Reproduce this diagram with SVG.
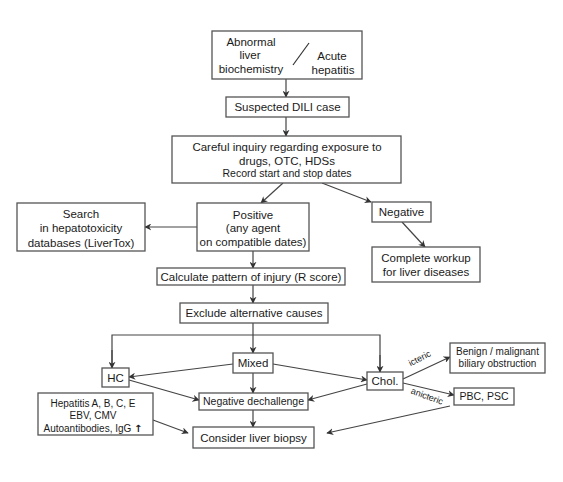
<svg xmlns="http://www.w3.org/2000/svg" width="563" height="482" viewBox="0 0 563 482">
<defs>
<marker id="ah" viewBox="0 0 10 10" refX="9" refY="5" markerWidth="7" markerHeight="7" markerUnits="userSpaceOnUse" orient="auto">
<path d="M0,0 L10,5 L0,10 L3,5 z" fill="#333"/>
</marker>
<style>
.box{fill:#fff;stroke:#555;stroke-width:1.3}
.t{font-family:"Liberation Sans",Arial,sans-serif;font-size:11.5px;fill:#1a1a1a;text-anchor:middle}
.s{font-size:10.5px}
.xs{font-size:10px}
.c{stroke:#444;stroke-width:1.2;fill:none}
.a{marker-end:url(#ah)}
</style>
</defs>
<rect width="563" height="482" fill="#fff"/>
<g id="connectors">
<line class="c a" x1="286" y1="79" x2="286" y2="97"/>
<line class="c a" x1="286" y1="117" x2="286" y2="136"/>
<line class="c a" x1="283" y1="183" x2="261" y2="203"/>
<line class="c a" x1="322" y1="183" x2="371" y2="202"/>
<line class="c a" x1="197" y1="227" x2="145" y2="227"/>
<line class="c a" x1="402" y1="222" x2="425" y2="247"/>
<line class="c a" x1="253" y1="251" x2="253" y2="268"/>
<line class="c a" x1="253" y1="285" x2="253" y2="303"/>
<line class="c a" x1="253" y1="323" x2="253" y2="353"/>
<polyline class="c" points="112,368 112,335 380,335 380,372"/>
<line class="c a" x1="112" y1="350" x2="112" y2="368"/>
<line class="c a" x1="380" y1="355" x2="380" y2="372"/>
<line class="c a" x1="233" y1="364" x2="129" y2="377"/>
<line class="c a" x1="129" y1="380" x2="199" y2="400"/>
<line class="c a" x1="273" y1="364" x2="367" y2="380"/>
<line class="c a" x1="367" y1="384" x2="308" y2="400"/>
<line class="c a" x1="253" y1="373" x2="253" y2="393"/>
<line class="c a" x1="403" y1="379" x2="450" y2="357"/>
<line class="c a" x1="403" y1="383" x2="454" y2="395"/>
<line class="c a" x1="450" y1="406" x2="327" y2="433"/>
<line class="c a" x1="153" y1="420" x2="188" y2="433"/>
<line class="c a" x1="253" y1="410" x2="253" y2="427"/>
<text class="t" style="font-size:9px" transform="translate(421,361) rotate(-27)">icteric</text>
<text class="t" style="font-size:9px" transform="translate(426,399) rotate(20)">anicteric</text>
</g>
<g id="n-start">
<rect class="box" x="212" y="31" width="150" height="48"/>
<text class="t" x="251" y="46">Abnormal</text>
<text class="t" x="250" y="59">liver</text>
<text class="t" x="251" y="73">biochemistry</text>
<line x1="293" y1="65" x2="309" y2="43" stroke="#333" stroke-width="1.2"/>
<text class="t" x="332" y="60">Acute</text>
<text class="t" x="333" y="74">hepatitis</text>
</g>
<g id="n-suspected">
<rect class="box" x="226" y="97" width="123" height="20"/>
<text class="t" x="287.5" y="111">Suspected DILI case</text>
</g>
<g id="n-inquiry">
<rect class="box" x="172" y="136" width="229" height="47"/>
<text class="t" x="287" y="151">Careful inquiry regarding exposure to</text>
<text class="t" x="287" y="165">drugs, OTC, HDSs</text>
<text class="t s" x="287" y="177">Record start and stop dates</text>
</g>
<g id="n-positive">
<rect class="box" x="197" y="203" width="112" height="48"/>
<text class="t" x="253" y="219">Positive</text>
<text class="t" x="253" y="232">(any agent</text>
<text class="t" x="253" y="246">on compatible dates)</text>
</g>
<g id="n-search">
<rect class="box" x="17" y="203" width="128" height="48"/>
<text class="t" x="81" y="218">Search</text>
<text class="t" x="81" y="232">in hepatotoxicity</text>
<text class="t" x="81" y="247">databases (LiverTox)</text>
</g>
<g id="n-negative">
<rect class="box" x="372" y="202" width="59" height="20"/>
<text class="t" x="401.5" y="216">Negative</text>
</g>
<g id="n-workup">
<rect class="box" x="372" y="247" width="108" height="35"/>
<text class="t" x="426" y="262">Complete workup</text>
<text class="t" x="426" y="276">for liver diseases</text>
</g>
<g id="n-calculate">
<rect class="box" x="157" y="268" width="188" height="17"/>
<text class="t" x="251" y="280.5">Calculate pattern of injury (R score)</text>
</g>
<g id="n-exclude">
<rect class="box" x="180" y="303" width="148" height="20"/>
<text class="t" x="254" y="317">Exclude alternative causes</text>
</g>
<g id="n-hc">
<rect class="box" x="102" y="368" width="27" height="19"/>
<text class="t" x="115.5" y="382">HC</text>
</g>
<g id="n-mixed">
<rect class="box" x="233" y="353" width="40" height="20"/>
<text class="t" x="253" y="367">Mixed</text>
</g>
<g id="n-chol">
<rect class="box" x="367" y="372" width="36" height="18"/>
<text class="t" x="385" y="385">Chol.</text>
</g>
<g id="n-dechallenge">
<rect class="box" x="199" y="393" width="109" height="17"/>
<text class="t s" x="253.5" y="405">Negative dechallenge</text>
</g>
<g id="n-benign">
<rect class="box" x="450" y="343" width="95" height="30"/>
<text class="t xs" x="497.5" y="355">Benign / malignant</text>
<text class="t xs" x="497.5" y="367">biliary obstruction</text>
</g>
<g id="n-pbc">
<rect class="box" x="454" y="388" width="60" height="17"/>
<text class="t s" x="484" y="400">PBC, PSC</text>
</g>
<g id="n-hepatitis">
<rect class="box" x="38" y="393" width="115" height="42"/>
<text class="t xs" x="93" y="407">Hepatitis A, B, C, E</text>
<text class="t xs" x="93" y="419">EBV, CMV</text>
<text class="t xs" x="93" y="432">Autoantibodies, IgG <tspan font-family="DejaVu Sans" font-weight="bold">↑</tspan></text>
</g>
<g id="n-biopsy">
<rect class="box" x="193" y="427" width="121" height="21"/>
<text class="t" x="253.5" y="442">Consider liver biopsy</text>
</g>
</svg>
